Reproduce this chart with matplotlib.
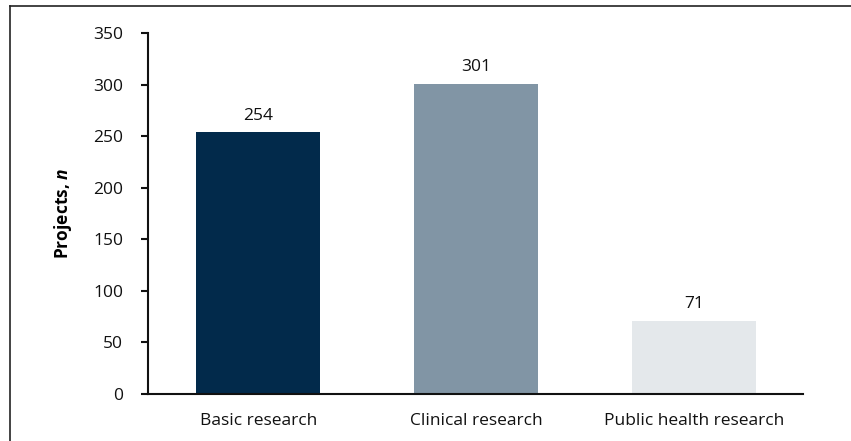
import numpy as np
import matplotlib
matplotlib.use('Agg')
import matplotlib.pyplot as plt
from matplotlib.lines import Line2D

plt.rcParams['font.family'] = ['Open Sans', 'DejaVu Sans']
plt.rcParams['mathtext.fontset'] = 'custom'
plt.rcParams['mathtext.it'] = 'Open Sans:italic:bold'

# data
categories = ['Basic research', 'Clinical research', 'Public health research']
projects = [254, 301, 71]
bar_colors = ['#022a4b', '#8195a5', '#e4e8eb']
yticks = [0, 50, 100, 150, 200, 250, 300, 350]

fs = 12.5

fig = plt.figure(figsize=(8.51, 4.41), dpi=100)
ax = fig.add_axes([0.174, 0.107, 0.7696, 0.818])

x = np.arange(len(categories))
bars = ax.bar(x, projects, width=0.57, color=bar_colors)

for xi, v in zip(x, projects):
    ax.annotate(str(v), (xi, v), xytext=(0, 6), textcoords='offset points',
                ha='center', va='bottom', fontsize=fs, color='#111111')

ax.set_xlim(-0.505, 2.5)
ax.set_ylim(0, 350)
ax.set_yticks(yticks)
ax.set_xticks(x)
ax.set_xticklabels(categories)
ax.tick_params(axis='y', length=5, width=1.5, labelsize=fs, pad=13, colors='#111111')
ax.tick_params(axis='x', length=0, labelsize=fs, pad=14, colors='#111111')

for s in ['top', 'right']:
    ax.spines[s].set_visible(False)
for s in ['left', 'bottom']:
    ax.spines[s].set_linewidth(1.5)
    ax.spines[s].set_color('#111111')

ax.set_ylabel('Projects, $n$', fontsize=fs, fontweight='bold', labelpad=14)

# outer frame (only top and left visible)
fig.add_artist(Line2D([0.0115, 1.0], [0.986, 0.986], transform=fig.transFigure, color='#222222', lw=1.2))
fig.add_artist(Line2D([0.0115, 0.0115], [0.0, 0.986], transform=fig.transFigure, color='#222222', lw=1.2))

fig.savefig('out.png', dpi=100)
